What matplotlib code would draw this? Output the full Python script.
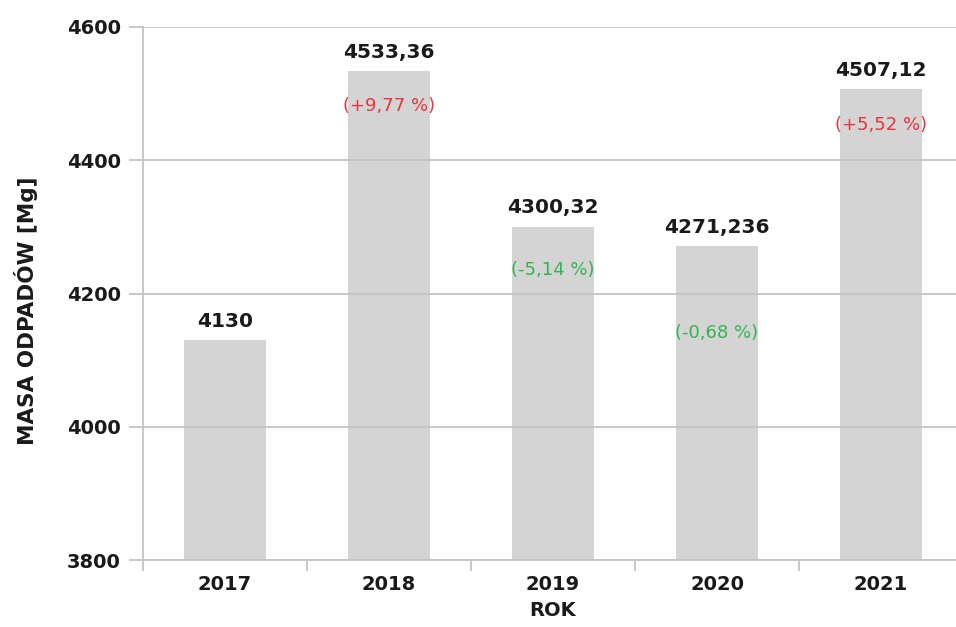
import matplotlib.pyplot as plt
import numpy as np

years = ['2017', '2018', '2019', '2020', '2021']
masses = [4130, 4533.36, 4300.32, 4271.236, 4507.12]
value_labels = ['4130', '4533,36', '4300,32', '4271,236', '4507,12']
changes = [None, '(+9,77 %)', '(-5,14 %)', '(-0,68 %)', '(+5,52 %)']
change_colors = [None, '#e8343a', '#34b552', '#34b552', '#e8343a']
yticks = [3800, 4000, 4200, 4400, 4600]

# how far below the bar top each change label sits (data units)
change_offsets = [0, 52, 65, 130, 54]

W, H = 956, 627
fig = plt.figure(figsize=(W / 100, H / 100), dpi=100)
ax = fig.add_axes([143 / W, 67 / H, (963 - 143) / W, 533 / H])

x = np.arange(len(years))
ax.bar(x, masses, width=0.5, color='#d4d4d4', zorder=1)

ax.set_ylim(3800, 4600)
ax.set_xlim(-0.5, len(years) - 0.5)
ax.set_yticks(yticks)
ax.set_yticklabels([str(t) for t in yticks], fontsize=14, fontweight='bold', color='#1a1a1a')
ax.yaxis.grid(True, color='#c4c4c4', linewidth=1.3, zorder=2)
ax.set_axisbelow(False)

# year labels centred on bars, tick marks on category boundaries
ax.set_xticks(x)
ax.set_xticklabels(years, fontsize=14, fontweight='bold', color='#1a1a1a')
ax.tick_params(axis='x', length=0, pad=11)
ax.set_xticks(np.arange(len(years) + 1) - 0.5, minor=True)
ax.tick_params(axis='x', which='minor', length=8, color='#c4c4c4', width=1.3)
ax.tick_params(axis='y', length=10, color='#c4c4c4', width=1.3, pad=6)

for s in ['top', 'right']:
    ax.spines[s].set_visible(False)
for s in ['left', 'bottom']:
    ax.spines[s].set_color('#c4c4c4')
    ax.spines[s].set_linewidth(1.3)

for i, m in enumerate(masses):
    ax.text(i, m + 14, value_labels[i], ha='center', va='bottom',
            fontsize=14.5, fontweight='bold', color='#1a1a1a', zorder=3)
    if changes[i]:
        ax.text(i, m - change_offsets[i], changes[i], ha='center', va='center',
                fontsize=13, color=change_colors[i], zorder=3)

ax.set_ylabel('MASA ODPADÓW [Mg]', fontsize=15.5, fontweight='bold', color='#1a1a1a')
ax.yaxis.set_label_coords(-0.128, 0.468)
ax.set_xlabel('ROK', fontsize=14, fontweight='bold', color='#1a1a1a', labelpad=5)

fig.savefig('out.png', dpi=100)
